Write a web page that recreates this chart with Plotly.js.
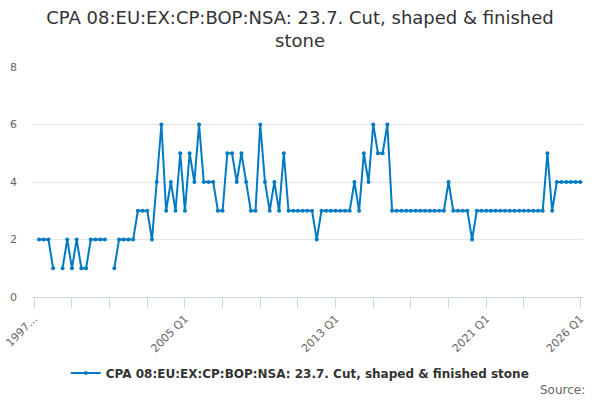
<!DOCTYPE html>
<html>
<head>
<meta charset="utf-8">
<script src="https://cdn.plot.ly/plotly-3.0.1.min.js"></script>
<style>html,body{margin:0;padding:0;background:#fff;}#chart{width:600px;height:400px;}</style>
</head>
<body>
<div id="chart"></div>
<script>
// Categories: quarters 1997 Q1 .. 2026 Q1
var years = [];
for (var y = 1997; y <= 2026; y++) years.push(y);
var quarters = [];
years.forEach(function (yr) {
  ['Q1', 'Q2', 'Q3', 'Q4'].forEach(function (q) {
    if (yr < 2026 || q === 'Q1') quarters.push(yr + ' ' + q);
  });
});

// Values (null = missing)
var values = [
  null, 2, 2, 2, 1, null, 1, 2, 1, 2, 1, 1, 2, 2, 2, 2,
  null, 1, 2, 2, 2, 2, 3, 3, 3, 2, 4, 6, 3, 4, 3, 5,
  3, 5, 4, 6, 4, 4, 4, 3, 3, 5, 5, 4, 5, 4, 3, 3,
  6, 4, 3, 4, 3, 5, 3, 3, 3, 3, 3, 3, 2, 3, 3, 3,
  3, 3, 3, 3, 4, 3, 5, 4, 6, 5, 5, 6, 3, 3, 3, 3,
  3, 3, 3, 3, 3, 3, 3, 3, 4, 3, 3, 3, 3, 2, 3, 3,
  3, 3, 3, 3, 3, 3, 3, 3, 3, 3, 3, 3, 3, 5, 3, 4,
  4, 4, 4, 4, 4
];

var tickCats = ['1997 Q1','1999 Q1','2001 Q1','2003 Q1','2005 Q1','2007 Q1','2009 Q1','2011 Q1',
                '2013 Q1','2015 Q1','2017 Q1','2019 Q1','2021 Q1','2023 Q1','2026 Q1'];
var tickLabels = ['1997\u2026','','','','2005 Q1','','','','2013 Q1','','','','2021 Q1','','2026 Q1'];

var seriesName = 'CPA 08:EU:EX:CP:BOP:NSA: 23.7. Cut, shaped & finished stone';
var font = 'DejaVu Sans, Verdana, sans-serif';

var trace = {
  x: quarters,
  y: values,
  type: 'scatter',
  mode: 'lines+markers',
  name: seriesName,
  line: {color: '#007ac3', width: 2},
  marker: {color: '#007ac3', size: 4},
  connectgaps: false,
  hoverinfo: 'x+y'
};

var layout = {
  width: 600,
  height: 400,
  margin: {l: 32, r: 16.7, t: 67, b: 103, autoexpand: false},
  paper_bgcolor: '#fff',
  plot_bgcolor: '#fff',
  font: {family: font, color: '#333'},
  title: {
    text: 'CPA 08:EU:EX:CP:BOP:NSA: 23.7. Cut, shaped & finished<br>stone',
    font: {family: font, size: 18, color: '#333'},
    x: 0.5, xref: 'container', xanchor: 'center',
    y: 0.94, yref: 'container', yanchor: 'top'
  },
  xaxis: {
    type: 'category',
    categoryorder: 'array',
    categoryarray: quarters,
    range: [-0.49, 116.56],
    tickmode: 'array',
    tickvals: tickCats,
    ticktext: tickLabels,
    tickangle: -45,
    ticks: 'outside',
    ticklen: 10,
    tickcolor: '#ccd6eb',
    tickwidth: 1,
    showline: true,
    linecolor: '#ccd6eb',
    linewidth: 1,
    showgrid: false,
    zeroline: false,
    automargin: false,
    tickfont: {family: font, size: 11, color: '#666'}
  },
  yaxis: {
    range: [0, 8],
    tickvals: [0, 2, 4, 6, 8],
    showgrid: true,
    gridcolor: '#e6e6e6',
    gridwidth: 1,
    zeroline: false,
    showline: false,
    ticks: '',
    automargin: false,
    ticklabelstandoff: 14,
    tickfont: {family: font, size: 11, color: '#666'}
  },
  showlegend: true,
  legend: {
    orientation: 'h',
    x: 0.486, xanchor: 'center',
    y: -0.33, yanchor: 'middle',
    font: {family: font, size: 12, color: '#333', weight: 'bold'},
    bgcolor: 'rgba(0,0,0,0)'
  },
  annotations: [{
    text: 'Source:',
    xref: 'paper', yref: 'paper',
    x: 1.0067, y: -0.404,
    xanchor: 'right', yanchor: 'middle',
    showarrow: false,
    font: {family: font, size: 12, color: '#666'}
  }]
};

Plotly.newPlot('chart', [trace], layout, {displayModeBar: false, staticPlot: true});
</script>
</body>
</html>
